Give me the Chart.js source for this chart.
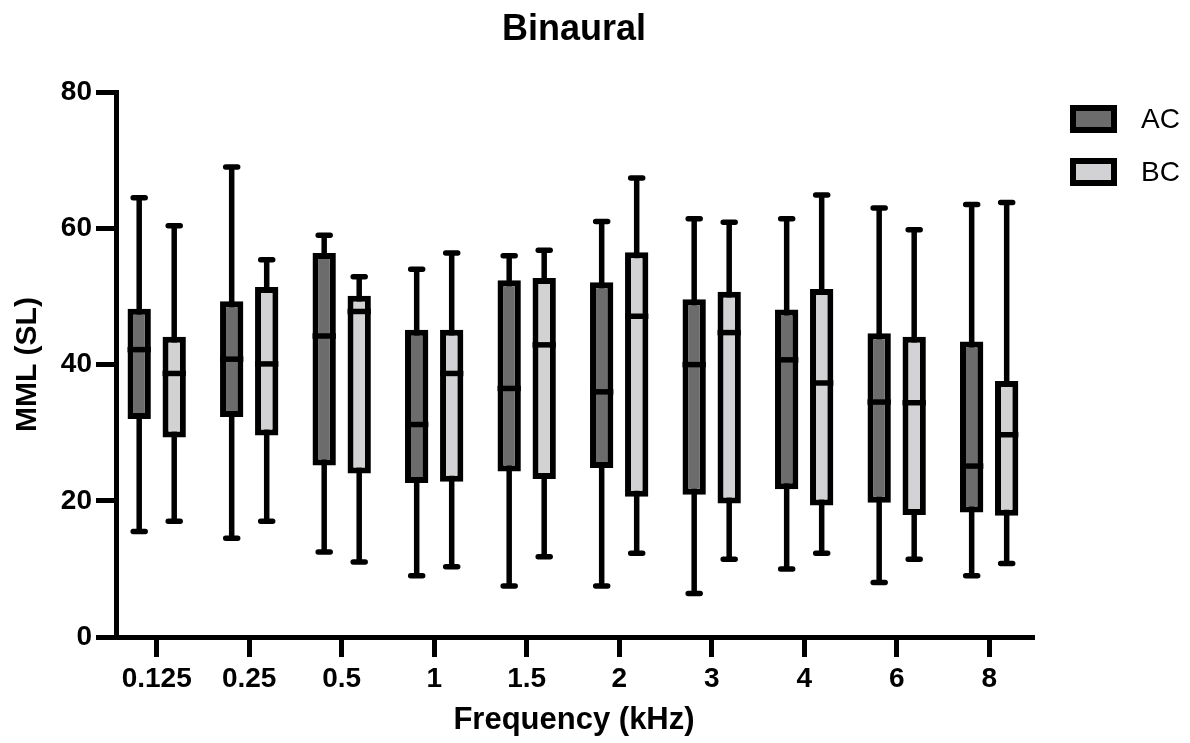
<!DOCTYPE html>
<html>
<head>
<meta charset="utf-8">
<title>Binaural</title>
<script src="https://cdn.jsdelivr.net/npm/chart.js@4.4.1/dist/chart.umd.min.js"></script>
<style>
  html, body { margin: 0; padding: 0; background: #ffffff; }
  #wrap { width: 1190px; height: 743px; }
</style>
</head>
<body>
<div id="wrap"><canvas id="box-chart" width="1190" height="743"></canvas></div>
<script>
// --- Data (MML in dB SL) ---
const freqLabels = ['0.125', '0.25', '0.5', '1', '1.5', '2', '3', '4', '6', '8'];

const acMin    = [15.5, 14.5, 12.5,  9.0,  7.5,  7.5,  6.4, 10.0,  8.0,  9.0];
const acQ1     = [32.0, 32.3, 25.2, 22.6, 24.3, 24.8, 20.9, 21.7, 19.7, 18.3];
const acMedian = [42.2, 40.8, 44.2, 31.2, 36.5, 36.0, 40.0, 40.7, 34.5, 25.1];
const acQ3     = [48.2, 49.3, 56.4, 45.1, 52.4, 52.1, 49.6, 48.1, 44.6, 43.4];
const acMax    = [64.5, 69.0, 59.0, 54.0, 56.0, 61.0, 61.4, 61.4, 63.0, 63.5];

const bcMin    = [17.0, 17.0, 11.0, 10.3, 11.8, 12.3, 11.4, 12.3, 11.4, 10.8];
const bcQ1     = [29.3, 29.6, 24.0, 22.8, 23.2, 20.6, 19.6, 19.3, 17.9, 17.8];
const bcMedian = [38.7, 40.1, 47.8, 38.7, 42.9, 47.1, 44.7, 37.3, 34.4, 29.7];
const bcQ3     = [44.1, 51.4, 50.1, 45.1, 52.7, 56.5, 50.7, 51.1, 44.1, 37.6];
const bcMax    = [60.4, 55.4, 52.9, 56.4, 56.8, 67.4, 60.9, 64.9, 59.8, 63.8];

const FONT = '"Liberation Sans", Arial, Helvetica, sans-serif';
const AC_COLOR = '#6c6c6c';
const BC_COLOR = '#d2d2d4';

// whiskers and medians per dataset, same order as the datasets
const boxStats = [
    { min: acMin, med: acMedian, max: acMax },
    { min: bcMin, med: bcMedian, max: bcMax }
];

// floating bar = interquartile box
function toBoxes(q1, q3) {
    return q1.map((v, i) => ({ x: i, y: [v, q3[i]] }));
}

/**
 * Draws whiskers (behind the boxes) and median lines (on top),
 * plus the legend in the right margin.
 */
const boxPlotPlugin = {
    id: 'boxPlot',
    beforeDatasetsDraw(chart) {
        const ctx = chart.ctx;
        const yScale = chart.scales.y;
        ctx.save();
        ctx.strokeStyle = '#000';
        ctx.lineWidth = 5.5;
        chart.data.datasets.forEach((ds, d) => {
            const meta = chart.getDatasetMeta(d);
            meta.data.forEach((bar, i) => {
                const yLow = yScale.getPixelForValue(boxStats[d].min[i]);
                const yHigh = yScale.getPixelForValue(boxStats[d].max[i]);
                ctx.lineCap = 'butt';
                ctx.beginPath();
                ctx.moveTo(bar.x, yLow);
                ctx.lineTo(bar.x, yHigh);
                ctx.stroke();
                // caps
                ctx.lineCap = 'round';
                ctx.beginPath();
                ctx.moveTo(bar.x - 6, yLow);
                ctx.lineTo(bar.x + 6, yLow);
                ctx.moveTo(bar.x - 6, yHigh);
                ctx.lineTo(bar.x + 6, yHigh);
                ctx.stroke();
            });
        });
        ctx.restore();
    },
    afterDatasetsDraw(chart) {
        const ctx = chart.ctx;
        const yScale = chart.scales.y;
        ctx.save();
        ctx.strokeStyle = '#000';
        ctx.lineWidth = 5.5;
        ctx.lineCap = 'butt';
        chart.data.datasets.forEach((ds, d) => {
            const meta = chart.getDatasetMeta(d);
            meta.data.forEach((bar, i) => {
                const yMed = yScale.getPixelForValue(boxStats[d].med[i]);
                ctx.beginPath();
                ctx.moveTo(bar.x - bar.width / 2, yMed);
                ctx.lineTo(bar.x + bar.width / 2, yMed);
                ctx.stroke();
            });
        });
        ctx.restore();
    },
    afterDraw(chart) {
        const ctx = chart.ctx;
        ctx.save();
        chart.data.datasets.forEach((ds, d) => {
            const top = 105 + d * 53;
            ctx.fillStyle = ds.backgroundColor;
            ctx.fillRect(1070, top, 47, 28);
            ctx.strokeStyle = '#000';
            ctx.lineWidth = 6;
            ctx.strokeRect(1073, top + 3, 41, 22);
            ctx.fillStyle = '#000';
            ctx.font = '28px ' + FONT;
            ctx.textAlign = 'left';
            ctx.textBaseline = 'middle';
            ctx.fillText(ds.label, 1141, top + 15);
        });
        ctx.restore();
    }
};

function axisStyle() {
    return {
        grid: {
            display: true,
            drawOnChartArea: false,
            drawTicks: true,
            offset: false,
            tickLength: 20,
            lineWidth: 5,
            tickWidth: 5,
            tickColor: '#000'
        },
        border: { display: true, color: '#000', width: 5 }
    };
}

new Chart(document.getElementById('box-chart'), {
    type: 'bar',
    data: {
        datasets: [
            {
                label: 'AC',
                data: toBoxes(acQ1, acQ3),
                backgroundColor: AC_COLOR,
                borderColor: '#000',
                borderWidth: 6,
                borderSkipped: false,
                categoryPercentage: 0.757,
                barPercentage: 0.666
            },
            {
                label: 'BC',
                data: toBoxes(bcQ1, bcQ3),
                backgroundColor: BC_COLOR,
                borderColor: '#000',
                borderWidth: 6,
                borderSkipped: false,
                categoryPercentage: 0.757,
                barPercentage: 0.666
            }
        ]
    },
    options: {
        responsive: false,
        animation: false,
        events: [],
        layout: { padding: { left: 0, right: 158, top: 0, bottom: 0 } },
        plugins: {
            legend: { display: false },
            tooltip: { enabled: false },
            title: {
                display: true,
                text: 'Binaural',
                fullSize: false,
                color: '#000',
                font: { family: FONT, size: 36, weight: 'bold' },
                padding: { top: 8, bottom: 41 }
            }
        },
        scales: {
            x: {
                type: 'linear',
                min: -0.44,
                max: 9.463,
                offset: false,
                ...axisStyle(),
                afterBuildTicks: (scale) => {
                    scale.ticks = freqLabels.map((_, i) => ({ value: i }));
                },
                afterFit: (scale) => { scale.height = 106; },
                ticks: {
                    color: '#000',
                    autoSkip: false,
                    maxRotation: 0,
                    padding: 5,
                    font: { family: FONT, size: 28, weight: 'bold' },
                    callback: (value) => freqLabels[value]
                },
                title: {
                    display: true,
                    text: 'Frequency (kHz)',
                    color: '#000',
                    font: { family: FONT, size: 31, weight: 'bold' },
                    padding: { top: 0, bottom: 4 }
                }
            },
            y: {
                min: 0,
                max: 80,
                ...axisStyle(),
                afterFit: (scale) => { scale.width = 116; },
                ticks: {
                    stepSize: 20,
                    color: '#000',
                    padding: 4,
                    font: { family: FONT, size: 28, weight: 'bold' }
                },
                title: {
                    display: true,
                    text: 'MML (SL)',
                    color: '#000',
                    font: { family: FONT, size: 30, weight: 'bold' },
                    padding: { top: 10, bottom: 0 }
                }
            }
        }
    },
    plugins: [boxPlotPlugin]
});
</script>
</body>
</html>
